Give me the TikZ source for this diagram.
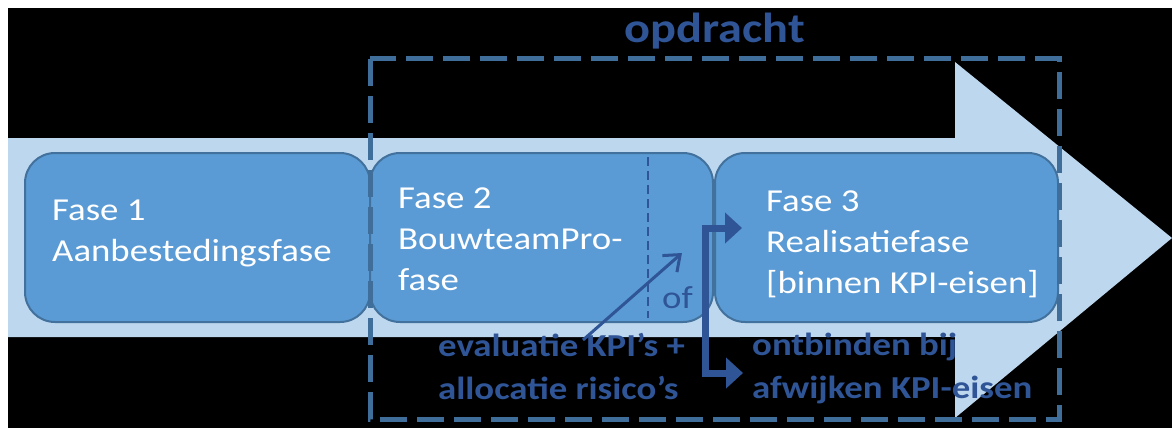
\documentclass[tikz,border=0pt]{standalone}
\usepackage{fontspec}
\setmainfont{Carlito}[FakeStretch=1.15]
\usepackage{tikz}
\usetikzlibrary{arrows.meta,positioning}
\definecolor{bandblue}{HTML}{BDD7EE}
\definecolor{boxblue}{HTML}{5B9BD5}
\definecolor{boxline}{HTML}{41719C}
\definecolor{frameblue}{HTML}{3F6E9B}
\definecolor{textblue}{HTML}{2F5597}

\begin{document}
\begin{tikzpicture}[
x=1pt, y=-1pt,
font=\fontsize{32}{41}\selectfont,
fase/.style={draw=boxline, line width=2pt, fill=boxblue, rounded corners=30pt, minimum height=169pt, inner sep=0pt},
fasetext/.style={anchor=north west, inner sep=0pt, align=left, text=white},
remark/.style={anchor=north west, inner sep=0pt, align=left, text=textblue, font=\bfseries\fontsize{32}{43}\selectfont},
opdrachtframe/.style={draw=frameblue, line width=5pt, dash pattern=on 27pt off 10pt},
choice/.style={draw=textblue, line width=7pt, line join=miter, {Triangle[length=17pt,width=30pt]}-{Triangle[length=17pt,width=30pt]}},
oneway/.style={draw=textblue, line width=3pt, -{Straight Barb[length=14pt,width=22pt]}}
]
    \useasboundingbox (0,0) rectangle (1172,428);
    % Background
    \fill[white] (0,0) rectangle (1172,428);
    \fill[black] (8,8) rectangle (1172,428);

    % Big arrow
    \fill[bandblue] (8,138) -- (955,138) -- (955,62) -- (1172,238)
        -- (955,418) -- (955,337) -- (8,337) -- cycle;

    % Phases
    \node[fase, minimum width=345pt] (box1) at (197.5,237.5) {};
    \node[fase, minimum width=343pt] (box2) at (541.5,237.5) {};
    \node[fase, minimum width=343pt] (box3) at (886.5,237.5) {};

    \node[fasetext] (fase1) at (52,200) {Fase 1\\Aanbestedingsfase};
    \node[fasetext] (fase2) at (398,188) {Fase 2\\BouwteamPro-\\fase};
    \node[fasetext] (fase3) at (766,191) {Fase 3\\Realisatiefase\\{[binnen KPI-eisen]}};

    % split inside fase 2
    \draw[textblue, line width=2.5pt, dash pattern=on 9pt off 5pt] (648,157) -- (648,318);
    \node[anchor=base west, inner sep=0pt, text=textblue] (of) at (662,308) {of};

    % opdracht frame
    \fill[black] (740,337) rectangle (953,428);
    \draw[opdrachtframe] (370,59) rectangle (1059,419);
    \node[anchor=base, inner sep=0pt, text=textblue, font=\bfseries\fontsize{42}{50}\selectfont] (opdracht) at (715,43) {opdracht};

    % remarks
    \node[remark] (evaluatie) at (438,333) {evaluatie KPI’s +\\allocatie risico’s};
    \node[remark] (ontbinden) at (752,333) {ontbinden bij\\afwijken KPI-eisen};

    \draw
    (583,340) coordinate (evalstart)
    (682,253) coordinate (evalend)
    (742,228) coordinate (toreal)
    (743,373) coordinate (tobreak);

    \draw[oneway] (evalstart) -- (evalend);
    \draw[choice] (toreal) -| (705,300) |- (tobreak);
\end{tikzpicture}
\end{document}
